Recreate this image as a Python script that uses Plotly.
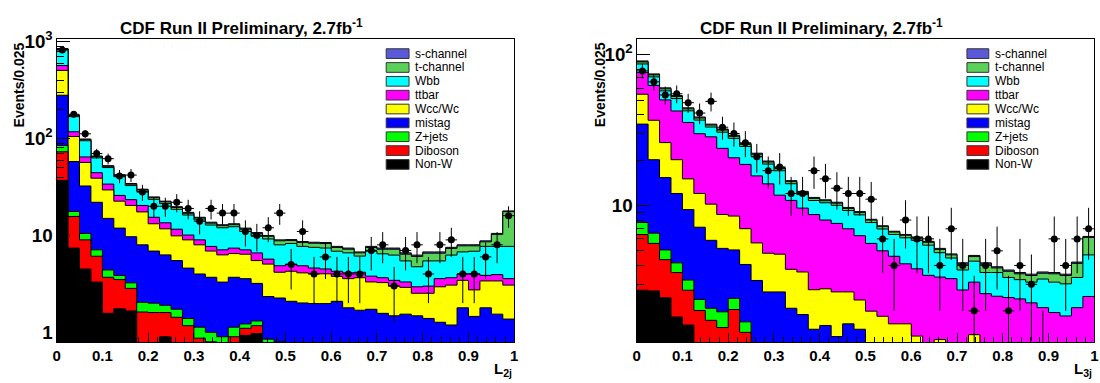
import numpy as np
import plotly.graph_objects as go

# ---------------- binning ----------------
N_BINS = 40
BIN_W = 0.025
edges = np.arange(N_BINS + 1) * BIN_W
centers = edges[:-1] + BIN_W / 2

# legend order (top -> bottom) and colours
processes = ["s-channel", "t-channel", "Wbb", "ttbar", "Wcc/Wc", "mistag", "Z+jets", "Diboson", "Non-W"]
colors = ["#5a5ad9", "#5ad25a", "#00ffff", "#ff00ff", "#ffff00", "#0000ff", "#00ff00", "#ff0000", "#000000"]

# ---------------- left panel: L_2j ----------------
l2j_nonw = [37, 7.4, 4.5, 3.3, 1.57, 1.75, 1.66, 0, 0, 0.9, 0, 0, 0, 0, 0, 0, 0.93, 0.97, 0, 0,
            0, 0, 0, 0, 0, 0, 0, 0, 0, 0, 0, 0, 0, 0, 0, 0, 0, 0, 0, 0]
l2j_dib = [36, 8.3, 4.5, 2.8, 2.13, 1.75, 1.18, 1.62, 1.6, 0.7, 1.43, 1.17, 0.87, 0.8, 0.5, 0.9, 0.17, 0.2, 0, 0,
           0, 0, 0, 0, 0, 0, 0, 0, 0, 0, 0, 0, 0, 0, 0, 0, 0, 0, 0, 0]
l2j_zjets = [12, 2.0, 1.5, 1.0, 0.7, 0.36, 0.40, 0.42, 0.4, 0.3, 0.3, 0.22, 0.26, 0.2, 0.4, 0.23, 0.12, 0.14, 0.85, 0.8,
             0.75, 0, 0, 0, 0, 0, 0, 0, 0, 0, 0, 0, 0, 0, 0, 0, 0, 0, 0, 0]
l2j_mistag = [195, 40.3, 21.9, 14.9, 10.6, 8.04, 6.46, 5.96, 4.9, 4.4, 3.77, 3.21, 2.87, 2.7, 2.4, 2.57, 2.36, 1.89, 1.49, 1.46,
              1.34, 2.01, 1.98, 1.98, 2.09, 1.79, 1.69, 1.73, 1.57, 1.48, 1.54, 1.48, 1.39, 1.27, 1.19, 1.79, 1.46, 1.79, 1.54, 1.37]
l2j_wcc = [226, 47, 24.3, 17, 14.5, 10.7, 10.7, 9.5, 6.3, 5.4, 4.4, 4.4, 4.0, 3.2, 3.0, 2.8, 2.82, 2.3, 2.72, 1.91,
           2.18, 2.10, 2.04, 2.04, 1.69, 1.79, 1.97, 1.58, 1.69, 1.52, 1.37, 1.05, 1.14, 1.68, 1.88, 1.65, 1.28, 1.60, 1.85, 1.70]
l2j_ttbar = [61, 12.5, 7.9, 5.4, 4.4, 3.3, 3.0, 2.9, 2.2, 1.8, 1.7, 1.1, 1.0, 0.8, 0.8, 0.9, 0.7, 1.1, 0.64, 0.69,
             0.79, 0.75, 0.59, 0.49, 0.49, 0.53, 0.51, 0.49, 0.40, 0.44, 0.40, 0.42, 0.47, 0.63, 0.59, 0.58, 1.28, 0.48, 0.55, 0.51]
l2j_wbb = [263, 51, 30.4, 18.8, 16.3, 14.5, 9.3, 8.1, 8.2, 7.8, 7.0, 6.15, 5.45, 5.1, 4.9, 4.9, 3.9, 3.2, 3.5, 3.14,
           3.20, 2.85, 2.93, 2.90, 2.60, 2.50, 1.95, 3.07, 2.80, 2.83, 2.15, 1.80, 2.46, 1.88, 2.61, 2.74, 2.85, 3.84, 3.77, 4.13]
l2j_tchan = [12, 4, 2.5, 1.8, 1.5, 1.3, 1.1, 1.0, 0.9, 0.9, 0.8, 0.7, 0.65, 0.6, 0.6, 0.6, 0.6, 0.6, 0.6, 0.8,
             0.6, 0.74, 0.77, 0.84, 0.64, 0.6, 0.49, 0.64, 0.75, 0.94, 0.95, 1.32, 1.1, 1.1, 1.07, 1.05, 0.94, 0.88, 2.55, 9.9]
l2j_schan = [8, 2.5, 1.5, 1.0, 0.8, 0.7, 0.6, 0.5, 0.5, 0.4, 0.4, 0.35, 0.3, 0.3, 0.3, 0.3, 0.3, 0.3, 0.2, 0.2,
             0.2, 0.2, 0.2, 0.2, 0.2, 0.2, 0.15, 0.2, 0.2, 0.2, 0.2, 0.2, 0.2, 0.2, 0.2, 0.2, 0.2, 0.2, 0.24, 0.3]
l2j_data = [820, 178, 112, 70, 62, 41, 42, 28, 20, 20, 22, 19, 14, 19, 17, 17, 11, 10, 12, 17,
            5, 11, 4, 6, 4, 4, 4, 7, 8, 3, 7, 8, 4, 8, 9, 4, 4, 6, 8, 16]

# ---------------- right panel: L_3j ----------------
l3j_nonw = [2.74, 2.71, 2.44, 1.82, 1.61, 0, 0, 0, 0, 0, 0, 0, 0, 0, 0, 0, 0, 0, 0, 0,
            0, 0, 0, 0, 0, 0, 0, 0, 0, 0, 0, 0, 0, 0, 0, 0, 0, 0, 0, 0]
l3j_dib = [3.67, 2.89, 1.93, 1.77, 1.13, 2.01, 1.73, 1.55, 2.04, 1.44, 0, 0, 0, 0, 0, 0, 0, 0, 0, 0,
           0, 0, 0, 0, 0, 0, 0, 0, 0, 0, 0, 0, 0, 0, 0, 0, 0, 0, 0, 0]
l3j_zjets = [1.30, 0.95, 0.70, 0.57, 0.46, 0.37, 0.35, 0.42, 0.38, 0.25, 0, 0, 0, 0, 0, 0, 0, 0, 0, 0,
             0, 0, 0, 0, 0, 0, 0, 0, 0, 0, 0, 0, 0, 0, 0, 0, 0, 0, 0, 0]
l3j_mistag = [26.9, 13.55, 10.23, 7.84, 6.18, 4.79, 3.79, 3.22, 2.65, 2.37, 3.18, 2.67, 2.67, 2.08, 1.89, 1.51, 1.60, 1.35, 1.64, 1.51,
              0, 0, 0, 0, 0, 0, 0, 0, 0, 0, 0, 0, 0, 0, 0, 0, 0, 0, 0, 0]
l3j_wcc = [20.0, 16.6, 10.8, 8.1, 5.62, 4.83, 4.33, 3.52, 3.43, 2.95, 2.46, 2.15, 2.08, 1.69, 1.73, 1.25, 1.20, 1.32, 1.03, 0.85,
           1.99, 1.84, 1.64, 1.64, 1.36, 0, 1.29, 0, 0, 1.39, 0, 0, 0, 0, 0, 0, 0, 0, 0, 0]
l3j_ttbar = [21.6, 25.8, 24.0, 22.2, 20.5, 17.9, 18.3, 15.2, 12.2, 11.7, 10.06, 9.08, 6.95, 7.03, 5.98, 5.94, 5.2, 4.93, 4.33, 3.94,
             3.61, 3.16, 2.96, 2.46, 2.44, 3.44, 2.06, 3.27, 2.75, 1.71, 2.6, 2.5, 2.45, 2.4, 2.26, 2.1, 1.95, 1.85, 2.1, 2.49]
l3j_wbb = [10.5, 8.7, 7.4, 8.8, 6.9, 6.9, 4.6, 6.7, 7.15, 5.9, 5.45, 4.9, 5.28, 3.13, 2.2, 2.08, 2.41, 2.42, 2.25, 2.36,
           2.10, 1.98, 1.82, 2.0, 2.05, 2.01, 1.51, 1.21, 0.98, 1.17, 0.99, 1.09, 0.88, 0.82, 0.84, 1.15, 1.15, 1.17, 1.23, 2.21]
l3j_tchan = [2.7, 2.2, 1.8, 1.6, 1.3, 1.2, 1.0, 1.0, 0.9, 0.8, 0.7, 0.6, 0.55, 0.45, 0.4, 0.35, 0.33, 0.33, 0.3, 0.3,
             0.29, 0.26, 0.24, 0.24, 0.25, 0.25, 0.25, 0.22, 0.35, 0.31, 0.49, 0.26, 0.33, 0.30, 0.33, 0.30, 0.42, 0.41, 0.80, 1.43]
l3j_schan = [1.4, 1.1, 0.9, 0.8, 0.7, 0.6, 0.5, 0.5, 0.45, 0.4, 0.35, 0.3, 0.27, 0.22, 0.2, 0.17, 0.16, 0.15, 0.15, 0.14,
             0.1, 0.09, 0.08, 0.08, 0.08, 0.08, 0.08, 0.07, 0.08, 0.08, 0.08, 0.07, 0.07, 0.07, 0.07, 0.07, 0.07, 0.07, 0.08, 0.1]
l3j_data = [78, 66, 54, 55, 48, 41, 49, 33, 30, 26, 21, 17, 18, 12, 12, 17, 15, 13, 12, 12,
            11, 6, 4, 8, 6, 6, 4, 7, 4, 2, 4, 5, 2, 4, 3, 1, 6, 4, 6, 7]

left_components = [l2j_schan, l2j_tchan, l2j_wbb, l2j_ttbar, l2j_wcc, l2j_mistag, l2j_zjets, l2j_dib, l2j_nonw]
right_components = [l3j_schan, l3j_tchan, l3j_wbb, l3j_ttbar, l3j_wcc, l3j_mistag, l3j_zjets, l3j_dib, l3j_nonw]

FONT = "Liberation Sans"
W, H = 1100, 383

fig = go.Figure()


def add_panel(components, data, xa, ya):
    # cumulative stack, bottom (Non-W) to top (s-channel)
    cum = np.zeros(N_BINS)
    levels = []
    for comp in components[::-1]:
        cum = cum + np.asarray(comp, dtype=float)
        levels.append(cum.copy())
    levels = levels[::-1]  # index 0 = total (top)
    for name, col, lev in zip(processes, colors, levels):
        yv = np.where(lev > 0, lev, 1e-3)
        fig.add_trace(go.Scatter(
            x=edges, y=np.append(yv, yv[-1]), mode="lines", line_shape="hv",
            fill="tozeroy", fillcolor=col, line=dict(color="black", width=1),
            name=name, showlegend=False, xaxis=xa, yaxis=ya, hoverinfo="skip"))
    d = np.asarray(data, dtype=float)
    fig.add_trace(go.Scatter(
        x=centers, y=d, mode="markers",
        marker=dict(color="black", size=7),
        error_y=dict(type="data", array=np.sqrt(d), thickness=1, width=0, color="black"),
        error_x=dict(type="constant", value=BIN_W / 2, thickness=1, width=0, color="black"),
        showlegend=False, xaxis=xa, yaxis=ya, name="data"))


add_panel(left_components, l2j_data, "x", "y")
add_panel(right_components, l3j_data, "x2", "y2")

ydom = [1 - 341.7 / H, 1 - 29 / H]
tickfont = dict(family=FONT, size=15, color="black", weight="bold")
xcommon = dict(range=[0, 1], dtick=0.1, tick0=0, ticks="inside", ticklen=9, tickcolor="black",
               showline=True, linecolor="black", linewidth=1, mirror=True, showgrid=False, zeroline=False,
               tickfont=tickfont,
               minor=dict(ticks="inside", dtick=0.02, ticklen=5, tickcolor="black", showgrid=False))
ycommon = dict(type="log", dtick=1, ticks="inside", ticklen=13, tickcolor="black", exponentformat="power",
               showline=True, linecolor="black", linewidth=1, mirror=True, showgrid=False, zeroline=False,
               tickfont=tickfont,
               minor=dict(ticks="inside", ticklen=7, tickcolor="black", showgrid=False))

fig.update_layout(
    width=W, height=H, margin=dict(l=0, r=0, t=0, b=0),
    paper_bgcolor="white", plot_bgcolor="white", showlegend=False,
    xaxis=dict(domain=[53 / W, 514 / W], anchor="y", **xcommon),
    yaxis=dict(domain=ydom, anchor="x", range=[-0.1, 3.027], **ycommon),
    xaxis2=dict(domain=[637.3 / W, 1098.3 / W], anchor="y2", **xcommon),
    yaxis2=dict(domain=ydom, anchor="x2", range=[0.0944, 2.103], **ycommon),
)

annotations = []
shapes = []
for x_title, x_ytitle, x_xtitle, xt_text, box_x0, box_x1, text_x in [
        (115, 15, 514, "L<sub>2j</sub>", 385, 408, 412),
        (699, 600, 1098, "L<sub>3j</sub>", 970, 992, 996)]:
    annotations.append(dict(
        text="CDF Run II Preliminary, 2.7fb<sup>-1</sup>", xref="paper", yref="paper",
        x=x_title / W, y=1 - 3 / H, xanchor="left", yanchor="top", showarrow=False,
        font=dict(family=FONT, size=17, color="black", weight="bold")))
    annotations.append(dict(
        text="Events/0.025", xref="paper", yref="paper", textangle=-90,
        x=x_ytitle / W, y=1 - 30 / H, xanchor="center", yanchor="top", showarrow=False,
        font=dict(family=FONT, size=14, color="black", weight="bold")))
    annotations.append(dict(
        text=xt_text, xref="paper", yref="paper",
        x=x_xtitle / W, y=1 - 358 / H, xanchor="right", yanchor="top", showarrow=False,
        font=dict(family=FONT, size=15, color="black", weight="bold")))
    for i, (name, col) in enumerate(zip(processes, colors)):
        yc = 44 + i * 14.3
        shapes.append(dict(type="rect", xref="paper", yref="paper",
                           x0=box_x0 / W, x1=box_x1 / W, y0=1 - (yc + 5) / H, y1=1 - (yc - 5) / H,
                           fillcolor=col, line=dict(color="#333333", width=1)))
        annotations.append(dict(
            text=name, xref="paper", yref="paper", x=text_x / W, y=1 - yc / H,
            xanchor="left", yanchor="middle", showarrow=False,
            font=dict(family=FONT, size=12, color="black")))

fig.update_layout(annotations=annotations, shapes=shapes)
fig.write_html("out.html")
